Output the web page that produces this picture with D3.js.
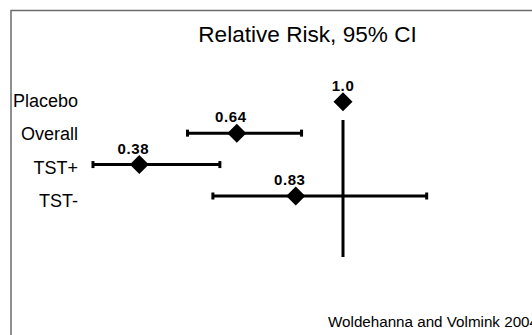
<!DOCTYPE html>
<html>
<head>
<meta charset="utf-8">
<script src="https://cdn.jsdelivr.net/npm/d3@7"></script>
<style>
  html, body { margin: 0; padding: 0; background: #fff; }
  svg { display: block; font-family: "Liberation Sans", Arial, sans-serif; }
</style>
</head>
<body>
<svg id="chart"></svg>
<script>
const width = 532
const height = 335

// data
const categories = ["Placebo", "Overall", "TST+", "TST-"]
const estimates = [1.0, 0.64, 0.38, 0.83]
const estimateLabels = ["1.0", "0.64", "0.38", "0.83"]
const lowerCI = [null, 0.5, 0.28, 0.57]
const upperCI = [null, 0.85, 0.59, 1.34]
const refValue = 1.0

const rows = categories.map((c, i) => ({
  name: c,
  est: estimates[i],
  label: estimateLabels[i],
  lo: lowerCI[i],
  hi: upperCI[i]
}))

const svg = d3.select("#chart").attr("width", width).attr("height", height)

// frame, runs off the right and bottom of the picture
svg.append("rect")
  .attr("x", 11)
  .attr("y", 10.5)
  .attr("width", 700)
  .attr("height", 500)
  .attr("fill", "none")
  .attr("stroke", "#6b6b6b")
  .attr("stroke-width", 1.5)

svg.append("text")
  .attr("x", 307.5)
  .attr("y", 41.5)
  .attr("text-anchor", "middle")
  .style("font-size", "22.6px")
  .text("Relative Risk, 95% CI")

const x = d3.scaleSqrt().domain([0, 1]).range([-188, 343])
const y = d3.scalePoint().domain(categories).range([101.7, 196])
const labelY = d3.scalePoint().domain(categories).range([107, 207])

// reference line at RR = 1
svg.append("line")
  .attr("x1", x(refValue))
  .attr("x2", x(refValue))
  .attr("y1", 120)
  .attr("y2", 257)
  .attr("stroke", "#000")
  .attr("stroke-width", 3)

svg.selectAll("text.cat")
  .data(rows)
  .join("text")
  .attr("class", "cat")
  .attr("x", 78)
  .attr("y", (d) => labelY(d.name))
  .attr("text-anchor", "end")
  .style("font-size", "18px")
  .text((d) => d.name)

const ci = rows.filter((d) => d.lo != null)

svg.selectAll("line.ci")
  .data(ci)
  .join("line")
  .attr("class", "ci")
  .attr("x1", (d) => x(d.lo))
  .attr("x2", (d) => x(d.hi))
  .attr("y1", (d) => y(d.name))
  .attr("y2", (d) => y(d.name))
  .attr("stroke", "#000")
  .attr("stroke-width", 3)

const caps = ci.flatMap((d) => [
  { name: d.name, v: d.lo },
  { name: d.name, v: d.hi }
])

svg.selectAll("line.cap")
  .data(caps)
  .join("line")
  .attr("class", "cap")
  .attr("x1", (d) => x(d.v))
  .attr("x2", (d) => x(d.v))
  .attr("y1", (d) => y(d.name) - 3.5)
  .attr("y2", (d) => y(d.name) + 3.5)
  .attr("stroke", "#000")
  .attr("stroke-width", 3)

const r = 9.5
svg.selectAll("path.est")
  .data(rows)
  .join("path")
  .attr("class", "est")
  .attr("d", (d) => {
    const cx = x(d.est), cy = y(d.name)
    return `M${cx},${cy - r}L${cx + r},${cy}L${cx},${cy + r}L${cx - r},${cy}Z`
  })
  .attr("fill", "#000")

svg.selectAll("text.val")
  .data(rows)
  .join("text")
  .attr("class", "val")
  .attr("x", (d) => x(d.est) - (d.est === refValue ? 0 : 6))
  .attr("y", (d) => y(d.name) - 11)
  .attr("text-anchor", "middle")
  .style("font-size", "15px")
  .style("font-weight", "bold")
  .style("letter-spacing", "0.6px")
  .text((d) => d.label)

svg.append("text")
  .attr("x", 328)
  .attr("y", 326.5)
  .style("font-size", "15.2px")
  .text("Woldehanna and Volmink 2004")
</script>
</body>
</html>
